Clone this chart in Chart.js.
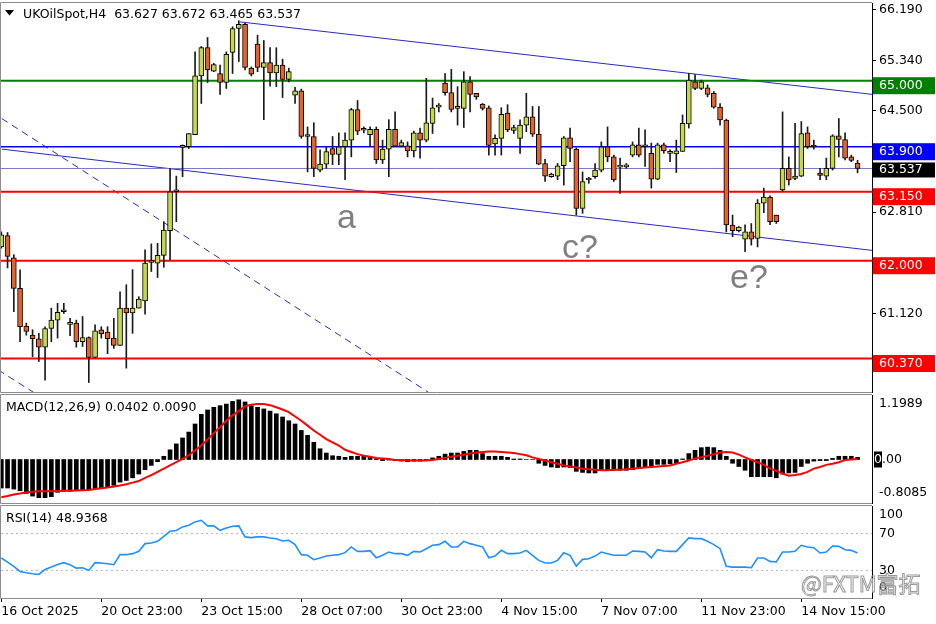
<!DOCTYPE html>
<html>
<head>
<meta charset="UTF-8">
<title>UKOilSpot H4</title>
<script src="https://cdn.jsdelivr.net/npm/chart.js"></script>
<style>
  body { margin: 0; background: #fff; }
  .panel { position: absolute; left: 0; }
</style>
</head>
<body>
<canvas id="mainChart" class="panel" style="top:0" width="936" height="394"></canvas>
<canvas id="macdChart" class="panel" style="top:393px" width="936" height="111"></canvas>
<canvas id="rsiChart" class="panel" style="top:504px" width="936" height="120"></canvas>
<script>
// --- data (H4 bars, index 0 = first visible bar) ---
const opens = [62.23,62.42,62.05,61.54,60.91,60.76,60.70,60.56,60.87,61.01,
  61.15,60.94,60.96,60.65,60.72,60.39,60.85,60.81,60.71,60.59,
  61.21,61.13,61.21,61.33,61.97,61.96,62.09,62.50,63.15,63.89,
  63.90,64.10,65.08,65.55,65.16,65.12,64.97,65.47,65.87,65.94,
  65.21,65.61,65.22,65.30,65.13,65.26,65.02,64.76,64.83,64.07,
  64.07,63.51,63.61,63.87,63.77,63.90,64.01,64.52,64.175,64.10,
  64.19,63.68,63.86,64.19,63.91,63.915,63.83,64.13,64.01,64.29,
  64.56,64.96,64.80,64.54,64.54,64.98,64.79,64.61,64.55,63.945,
  64.04,64.46,64.17,64.04,64.26,64.40,64.11,63.62,63.40,63.41,
  63.585,64.05,63.86,62.87,63.345,63.40,63.51,63.90,63.73,63.56,
  63.565,63.76,63.93,63.90,63.79,63.36,63.93,63.79,63.78,63.82,
  64.28,64.98,64.87,64.88,64.79,64.56,64.345,62.595,62.50,62.36,
  62.48,62.37,62.96,63.06,62.76,63.18,63.54,63.37,63.41,64.13,
  63.91,63.46,63.41,63.54,64.08,64.02,63.73,63.627];
const highs = [62.48,62.47,62.10,61.85,60.96,60.85,60.79,60.90,61.21,61.29,
  61.29,61.04,61.01,61.07,60.73,60.93,60.90,60.90,61.04,61.48,
  61.60,61.85,61.40,62.18,62.28,62.29,62.65,63.54,63.41,63.93,
  64.12,65.48,65.57,65.72,65.29,65.26,65.48,65.90,66.00,65.96,
  65.23,65.76,65.67,65.55,65.55,65.36,65.21,64.89,64.86,64.23,
  64.30,63.85,63.90,64.07,64.13,64.13,64.54,64.67,64.23,64.23,
  64.23,64.01,64.35,64.48,64.01,63.98,64.16,64.21,65.04,64.71,
  64.62,65.12,65.19,64.90,65.15,65.07,64.79,64.62,64.58,64.10,
  64.55,64.60,64.26,64.35,64.79,64.57,64.57,63.69,63.46,63.62,
  64.07,64.21,63.88,63.48,63.39,63.62,63.98,64.23,63.76,63.71,
  63.62,63.98,64.21,64.18,63.96,63.96,63.96,63.85,64.01,64.43,
  65.12,65.10,65.01,64.93,64.82,64.62,64.36,62.76,62.57,62.60,
  62.62,63.02,63.21,63.08,62.76,64.48,63.73,64.29,64.32,64.23,
  64.01,63.54,63.71,64.10,64.37,64.13,63.76,63.672];
const lows = [62.21,61.88,61.15,60.65,60.76,60.40,60.32,60.01,60.65,60.71,
  61.12,60.75,60.56,60.57,59.97,60.39,60.71,60.45,60.54,60.59,
  60.21,60.79,61.21,61.11,61.82,61.72,61.89,62.01,62.65,63.40,
  63.87,64.10,64.62,64.97,65.15,64.77,64.87,65.12,65.32,65.18,
  65.08,65.15,64.35,64.91,64.90,64.72,64.98,64.62,64.04,63.48,
  63.40,63.48,63.54,63.60,63.60,63.35,63.73,64.10,64.13,63.90,
  63.62,63.62,63.40,63.90,63.90,63.73,63.73,63.71,63.98,64.12,
  64.48,64.76,64.48,64.26,64.22,64.48,64.69,64.51,63.76,63.76,
  63.76,64.15,64.12,63.79,64.15,64.07,63.60,63.32,63.39,63.35,
  63.26,63.65,62.76,62.79,63.29,63.37,63.48,63.65,63.32,63.12,
  63.54,63.73,63.73,63.57,63.21,63.35,63.79,63.65,63.47,63.82,
  64.21,64.85,64.85,64.73,64.54,64.26,62.48,62.40,62.48,62.15,
  62.26,62.23,62.80,62.60,62.62,63.15,63.26,63.35,63.40,63.87,
  63.86,63.35,63.35,63.51,63.73,63.68,63.65,63.465];
const closes = [62.43,62.07,61.54,60.90,60.82,60.70,60.56,60.87,61.01,61.14,
  61.18,60.95,60.65,60.72,60.39,60.83,60.78,60.70,60.59,61.21,
  61.13,61.21,61.36,61.96,61.98,62.09,62.51,63.15,63.16,63.90,
  64.12,65.08,65.55,65.18,65.27,64.97,65.44,65.87,65.94,65.22,
  65.11,65.22,65.30,65.13,65.26,65.02,65.15,64.83,64.07,64.08,
  63.54,63.61,63.82,63.77,63.90,64.01,64.52,64.16,64.185,64.19,
  63.68,63.86,64.19,63.91,63.97,63.83,64.13,64.01,64.30,64.55,
  64.58,64.80,64.52,64.545,64.98,64.77,64.73,64.54,63.92,64.04,
  64.44,64.18,64.22,64.26,64.40,64.11,63.61,63.41,63.445,63.58,
  64.05,63.87,62.87,63.32,63.35,63.51,63.90,63.73,63.345,63.565,
  63.57,63.93,63.76,63.905,63.36,63.93,63.83,63.795,63.83,64.29,
  65.01,64.87,64.98,64.77,64.56,64.345,62.595,62.50,62.56,62.48,
  62.36,62.96,63.06,62.65,62.65,63.54,63.345,63.41,64.12,63.90,
  63.895,63.42,63.54,64.08,64.02,63.71,63.67,63.537];

const macdMain = [-0.53,-0.53,-0.55,-0.58,-0.63,-0.68,-0.71,-0.71,-0.69,-0.61,
  -0.59,-0.59,-0.58,-0.56,-0.56,-0.55,-0.53,-0.51,-0.48,-0.42,
  -0.39,-0.34,-0.27,-0.19,-0.11,-0.04,0.06,0.18,0.29,0.40,
  0.51,0.66,0.84,0.92,0.97,1.00,1.03,1.08,1.11,1.07,
  1.00,0.97,0.94,0.90,0.85,0.79,0.72,0.66,0.54,0.45,
  0.32,0.20,0.12,0.07,0.06,0.04,0.06,0.06,0.06,0.04,
  0.01,-0.02,-0.01,-0.02,-0.03,-0.04,-0.03,-0.03,-0.01,0.03,
  0.06,0.10,0.12,0.12,0.15,0.17,0.17,0.11,0.06,0.06,
  0.06,0.04,0.01,0.01,0.00,0.00,-0.07,-0.11,-0.14,-0.15,
  -0.14,-0.15,-0.22,-0.24,-0.25,-0.25,-0.20,-0.20,-0.20,-0.20,
  -0.20,-0.19,-0.17,-0.14,-0.14,-0.09,-0.09,-0.08,-0.07,0.01,
  0.11,0.17,0.22,0.23,0.22,0.17,0.06,-0.07,-0.13,-0.20,
  -0.32,-0.32,-0.32,-0.32,-0.34,-0.27,-0.25,-0.24,-0.13,-0.07,
  -0.03,-0.02,-0.02,0.02,0.06,0.06,0.06,0.0402];
const macdSignal = [-0.70,-0.68,-0.65,-0.63,-0.61,-0.60,-0.59,-0.59,-0.59,-0.585,
  -0.58,-0.58,-0.575,-0.57,-0.565,-0.55,-0.535,-0.52,-0.50,-0.485,
  -0.46,-0.43,-0.40,-0.34,-0.29,-0.23,-0.17,-0.11,-0.05,0.01,
  0.08,0.17,0.26,0.37,0.49,0.60,0.72,0.82,0.90,0.99,
  1.02,1.03,1.03,1.01,0.97,0.93,0.88,0.80,0.72,0.63,
  0.54,0.46,0.38,0.32,0.26,0.18,0.14,0.10,0.07,0.05,
  0.03,0.02,0.01,-0.01,-0.01,-0.02,-0.02,-0.02,-0.02,-0.01,
  0.01,0.03,0.05,0.07,0.09,0.11,0.13,0.14,0.15,0.15,
  0.14,0.13,0.12,0.10,0.08,0.04,0.01,-0.02,-0.05,-0.08,
  -0.11,-0.13,-0.15,-0.17,-0.18,-0.19,-0.20,-0.20,-0.19,-0.19,
  -0.18,-0.17,-0.16,-0.15,-0.14,-0.13,-0.12,-0.11,-0.08,-0.05,
  -0.02,0.02,0.04,0.07,0.10,0.13,0.14,0.13,0.09,0.04,
  -0.01,-0.05,-0.10,-0.17,-0.21,-0.26,-0.30,-0.29,-0.27,-0.23,
  -0.17,-0.14,-0.10,-0.08,-0.05,-0.01,0.00,0.009];
const rsiValues = [43.5,39,34.4,28.9,27.5,26.4,25.6,31.1,33.6,36.5,
  38.4,36.2,32.5,32.9,30,38.4,38,37.3,36.2,47.1,
  47.1,48.2,50.7,59.1,59.8,61.6,67.1,72.5,73.3,77.3,
  79.1,82.7,84.5,78.4,78.4,73.6,76.2,78,78.4,66.4,
  65.6,66.4,66.4,65.3,64.5,62,62.7,58,47.1,46.4,
  41.6,43.5,45.6,46.4,47.1,49.3,55.5,50.7,50.7,51.5,
  43.8,46.4,50,48.2,48.2,46.4,50.7,50,53.6,57.3,
  58,61.6,55.5,55.5,61.6,59.1,57.3,55.5,43.8,45.6,
  51.8,48.2,48.2,48.9,51.8,46.4,40.9,38,38,40.9,
  49.3,46.4,34.7,42,42.7,45.6,50,48.2,46.4,46.4,
  46.4,51.1,50.7,50,43.8,52.5,51.1,50.7,50.7,58,
  65.3,64.5,64.5,61.6,58,53.6,34.4,33.6,33.6,33.6,
  32.9,43.5,43.5,39.8,39.1,50,50,50.7,57.3,55.5,
  54.7,48.9,50,56.5,56.2,52.5,51.8,48.94];

const timeTicks = [0, 16, 32, 48, 64, 80, 96, 112, 128];
const timeLabels = ['16 Oct 2025', '20 Oct 23:00', '23 Oct 15:00', '28 Oct 07:00', '30 Oct 23:00',
  '4 Nov 15:00', '7 Nov 07:00', '11 Nov 23:00', '14 Nov 15:00'];
const priceTicks = [66.19, 65.34, 64.50, 62.81, 61.12];
const levelPrices = [65.0, 63.9, 63.15, 62.0, 60.37];
const levelColors = ['#008000', '#0000ff', '#ff0000', '#ff0000', '#ff0000'];
const lastPrice = 63.537;
// trend lines: [barIndex, price] at both ends
const trendFrom = [[38.2, 65.98], [0.06, 63.86], [0.06, 64.37], [-0.5, 60.18]];
const trendTo = [[139.5, 64.77], [139.5, 62.17], [68.3, 59.81], [5.1, 59.81]];
const trendDashed = [false, false, true, true];
const waveText = ['a', 'c?', 'e?'];
const waveAt = [[53.7, 62.545], [89.7, 62.04], [116.6, 61.54]];
const rsiLevels = [70, 30];

const X_MIN = -0.05, X_MAX = 139.31;
const FONT = 'DejaVu Sans';
const idx = closes.map((c, i) => i);

Chart.defaults.font.family = FONT;
Chart.defaults.font.size = 12.5;
Chart.defaults.color = '#000';

function timeAxis(show) {
  return {
    type: 'linear', min: X_MIN, max: X_MAX, offset: false, display: show,
    grid: { display: show, drawOnChartArea: false, tickLength: 4, color: '#000', offset: false },
    border: { color: '#000' },
    ticks: {
      autoSkip: false, maxRotation: 0, align: 'start', padding: 2,
      callback: v => timeLabels[timeTicks.indexOf(v)]
    },
    afterBuildTicks: s => { s.ticks = timeTicks.map(v => ({ value: v })); },
    afterFit: s => {
      if (show) s.height = 26;
      s.paddingLeft = 0; s.paddingRight = 0;
    }
  };
}

function rightAxis(min, max, showTicks) {
  return {
    position: 'right', min: min, max: max,
    border: { color: '#000' },
    grid: { display: showTicks, drawOnChartArea: false, tickLength: 4, color: '#000' },
    ticks: { display: showTicks, padding: 3, callback: v => v.toFixed(3) },
    afterFit: s => {
      s.width = 64;
      // no extra room for half labels: the panel runs edge to edge like MT4
      s.paddingTop = 0; s.paddingBottom = 0;
    }
  };
}

// gray frame round the panel (right side is the black price axis)
const framePlugin = {
  id: 'frame',
  afterDraw(chart) {
    const { ctx, chartArea: a } = chart;
    ctx.save();
    ctx.strokeStyle = '#8c8c8c';
    ctx.lineWidth = 1;
    ctx.beginPath();
    ctx.moveTo(a.right, a.top - 0.5); ctx.lineTo(a.left - 0.5, a.top - 0.5);
    ctx.lineTo(a.left - 0.5, a.bottom + 0.5); ctx.lineTo(a.right, a.bottom + 0.5);
    ctx.stroke();
    ctx.restore();
  }
};

function axisText(chart, text, y) {
  chart.ctx.fillText(text, chart.chartArea.right + 7, y);
}

const commonOpts = {
  responsive: false, devicePixelRatio: 1, animation: false, events: [],
  plugins: { legend: { display: false }, tooltip: { enabled: false } }
};

// ---------- main price panel ----------
const datasets = [];
datasets.push({
  label: 'body', order: 0, grouped: false, barThickness: 5, minBarLength: 2,
  data: idx.map(i => ({ x: i, y: [Math.min(opens[i], closes[i]), Math.max(opens[i], closes[i])] })),
  backgroundColor: idx.map(i => closes[i] >= opens[i] ? '#c5d84a' : '#e3632b'),
  borderColor: '#000', borderWidth: 1, borderSkipped: false
});
datasets.push({
  label: 'wick', order: 1, grouped: false, barThickness: 1,
  data: idx.map(i => ({ x: i, y: [lows[i], highs[i]] })),
  backgroundColor: '#1a1a1a'
});
levelPrices.forEach((p, k) => {
  datasets.push({
    type: 'line', order: 2, data: [{ x: X_MIN, y: p }, { x: X_MAX, y: p }],
    borderColor: levelColors[k], borderWidth: k === 1 ? 1.6 : 2, pointRadius: 0
  });
});
datasets.push({
  type: 'line', order: 2, data: [{ x: X_MIN, y: lastPrice }, { x: X_MAX, y: lastPrice }],
  borderColor: '#7878c8', borderWidth: 1, pointRadius: 0
});
trendFrom.forEach((f, k) => {
  datasets.push({
    type: 'line', order: 3,
    data: [{ x: f[0], y: f[1] }, { x: trendTo[k][0], y: trendTo[k][1] }],
    borderColor: '#2828c0', borderWidth: 1, pointRadius: 0,
    borderDash: trendDashed[k] ? [7, 5] : []
  });
});

const mainLabels = {
  id: 'mainLabels',
  afterDraw(chart) {
    const { ctx, chartArea: a } = chart;
    const y = chart.scales.y, x = chart.scales.x;
    ctx.save();
    // header
    ctx.fillStyle = '#000';
    ctx.beginPath();
    ctx.moveTo(5, 10); ctx.lineTo(14, 10); ctx.lineTo(9.5, 15.5); ctx.closePath(); ctx.fill();
    ctx.font = '12.5px ' + FONT;
    ctx.textBaseline = 'alphabetic';
    ctx.fillText('UKOilSpot,H4  63.627 63.672 63.465 63.537', 23, a.top + 15);
    // wave marks
    ctx.fillStyle = '#808080';
    ctx.font = '34px "Liberation Sans"';
    waveText.forEach((t, k) => {
      ctx.fillText(t, x.getPixelForValue(waveAt[k][0]), y.getPixelForValue(waveAt[k][1]));
    });
    // price boxes on the axis
    ctx.font = '12.5px ' + FONT;
    ctx.textBaseline = 'middle';
    levelPrices.forEach((p, k) => {
      const py = y.getPixelForValue(p);
      ctx.fillStyle = levelColors[k];
      ctx.fillRect(a.right + 1, py - 3.5, 62, 17);
      ctx.fillStyle = '#fff';
      ctx.fillText(p.toFixed(3), a.right + 7, py + 5);
    });
    const ly = y.getPixelForValue(lastPrice);
    ctx.fillStyle = '#000';
    ctx.fillRect(a.right + 1, ly - 6, 62, 15);
    ctx.fillStyle = '#fff';
    ctx.fillText(lastPrice.toFixed(3), a.right + 7, ly + 1.5);
    ctx.restore();
  }
};

new Chart(document.getElementById('mainChart'), {
  type: 'bar',
  data: { datasets: datasets },
  options: Object.assign({}, commonOpts, {
    layout: { padding: { left: 1, top: 3, bottom: 2, right: 0 } },
    scales: {
      x: timeAxis(false),
      y: Object.assign(rightAxis(59.812, 66.295, true), {
        afterBuildTicks: s => { s.ticks = priceTicks.map(v => ({ value: v })); }
      })
    }
  }),
  plugins: [framePlugin, mainLabels]
});

// ---------- MACD panel ----------
const macdLabels = {
  id: 'macdLabels',
  afterDraw(chart) {
    const { ctx, chartArea: a } = chart;
    const y = chart.scales.y;
    ctx.save();
    ctx.font = '12.5px ' + FONT;
    ctx.fillStyle = '#000';
    ctx.textBaseline = 'alphabetic';
    ctx.fillText('MACD(12,26,9) 0.0402 0.0090', 6, a.top + 16);
    ctx.textBaseline = 'middle';
    axisText(chart, y.max.toFixed(4), y.getPixelForValue(y.max) + 9);
    axisText(chart, y.min.toFixed(4), y.getPixelForValue(y.min) - 10);
    const zy = y.getPixelForValue(0);
    ctx.fillRect(a.right + 2, zy - 8, 8, 16);
    ctx.fillText('0.00', a.right + 2, zy);
    ctx.fillStyle = '#fff';
    ctx.fillText('0', a.right + 2, zy);
    ctx.restore();
  }
};

new Chart(document.getElementById('macdChart'), {
  type: 'bar',
  data: {
    datasets: [
      { type: 'line', order: 0, data: idx.map(i => ({ x: i, y: macdSignal[i] })),
        borderColor: '#ff0000', borderWidth: 2, pointRadius: 0 },
      { order: 1, data: idx.map(i => ({ x: i, y: macdMain[i] })),
        backgroundColor: '#000', barThickness: 4 }
    ]
  },
  options: Object.assign({}, commonOpts, {
    layout: { padding: { left: 1, top: 2, bottom: 1, right: 0 } },
    scales: { x: timeAxis(false), y: rightAxis(-0.8085, 1.1989, false) }
  }),
  plugins: [framePlugin, macdLabels]
});

// ---------- RSI panel ----------
const rsiSets = [{
  type: 'line', order: 0, data: idx.map(i => ({ x: i, y: rsiValues[i] })),
  borderColor: '#1e90ff', borderWidth: 1.6, pointRadius: 0
}];
rsiLevels.forEach(v => {
  rsiSets.push({
    type: 'line', order: 1, data: [{ x: X_MIN, y: v }, { x: X_MAX, y: v }],
    borderColor: '#b4b4b4', borderWidth: 1, borderDash: [2, 3], pointRadius: 0
  });
});

const rsiLabels = {
  id: 'rsiLabels',
  afterDraw(chart) {
    const { ctx, chartArea: a } = chart;
    const y = chart.scales.y;
    ctx.save();
    ctx.font = '12.5px ' + FONT;
    ctx.fillStyle = '#000';
    ctx.textBaseline = 'alphabetic';
    ctx.fillText('RSI(14) 48.9368', 6, a.top + 16);
    ctx.textBaseline = 'middle';
    axisText(chart, '100', y.getPixelForValue(100) + 9);
    rsiLevels.forEach(v => axisText(chart, String(v), y.getPixelForValue(v)));
    axisText(chart, '0', y.getPixelForValue(0) - 10);
    // watermark
    ctx.font = '22px "Noto Sans CJK SC"';
    ctx.textBaseline = 'alphabetic';
    ctx.strokeStyle = '#9a9a9a';
    ctx.lineWidth = 1;
    ctx.strokeText('@FXTM富拓', 801, a.bottom - 6);
    ctx.restore();
  }
};

new Chart(document.getElementById('rsiChart'), {
  type: 'line',
  data: { datasets: rsiSets },
  options: Object.assign({}, commonOpts, {
    layout: { padding: { left: 1, top: 2, bottom: 0, right: 0 } },
    scales: { x: timeAxis(true), y: rightAxis(0, 100, false) }
  }),
  plugins: [framePlugin, rsiLabels]
});
</script>
</body>
</html>
